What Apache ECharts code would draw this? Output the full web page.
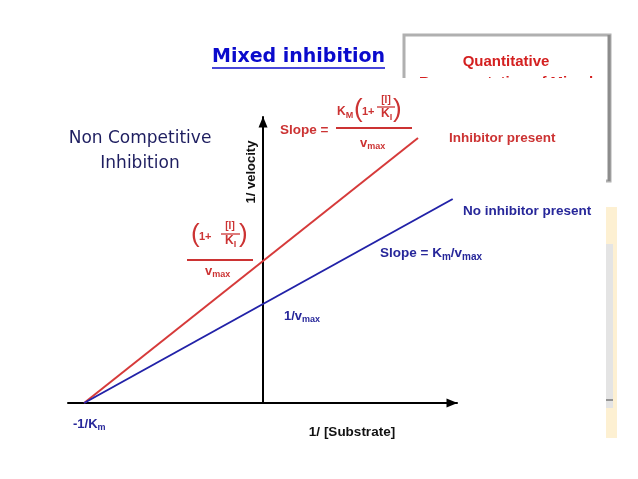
<!DOCTYPE html>
<html>
<head>
<meta charset="utf-8">
<script src="https://cdn.jsdelivr.net/npm/echarts@6/dist/echarts.min.js"></script>
<style>html,body{margin:0;padding:0;background:#fff}#c{width:638px;height:479px}</style>
</head>
<body>
<div id="c"></div>
<script>
// Lineweaver-Burk (units: Km = 1, vmax = 1)
var inhibitorX = [-1, 0.866];
var inhibitorY = [0, 2.65];
var noInhibitorX = [-1, 1.06];
var noInhibitorY = [0, 2.04];
var xRange = [-1.09, 1.084];
var yRange = [0, 2.86];

var RED = '#cc3333', RLINE = '#d63a3a', BLUE = '#27279a', BLINE = '#2222a8';
var F = '"Liberation Sans", Arial, sans-serif';

function pts(xs, ys) { return xs.map(function (x, i) { return [x, ys[i]]; }); }
function t(x, y, text, font, fill, align, z) {
  return { type: 'text', z: z || 50, style: { x: x, y: y, text: text, font: font, fill: fill, align: align || 'left', verticalAlign: 'middle' } };
}
function ln(x1, y1, x2, y2, c, w, z) {
  return { type: 'line', z: z || 50, shape: { x1: x1, y1: y1, x2: x2, y2: y2 }, style: { stroke: c, lineWidth: w || 1.5 } };
}
function rt(x, y, text, size, fill, align) {
  var ss = Math.round(size * 0.72);
  var r = { s: { font: 'bold ' + ss + 'px ' + F, fill: fill, padding: [Math.round(size * 0.6), 0, 0, 0] } };
  return { type: 'text', z: 50, style: { x: x, y: y, text: text, font: 'bold ' + size + 'px ' + F, fill: fill, align: align || 'left', verticalAlign: 'middle', rich: r } };
}

var g = [
  // top-right box (slide element)
  { type: 'rect', z: 1, shape: { x: 404, y: 35, width: 206, height: 146 }, style: { fill: '#fff', stroke: '#b0b0b0', lineWidth: 3 } },
  ln(609, 35, 609, 181, '#8c8c8c', 3, 2),
  t(506, 62, 'Quantitative', 'bold 15px ' + F, '#d42020', 'center', 2),
  t(506, 83, 'Representation of Mixed', 'bold 15px ' + F, '#d42020', 'center', 2),
  { type: 'rect', z: 5, shape: { x: 150, y: 78, width: 456, height: 360 }, style: { fill: '#fff' } },
  // right stripes
  { type: 'rect', z: 2, shape: { x: 606, y: 207, width: 11, height: 231 }, style: { fill: '#fdf0d2' } },
  { type: 'rect', z: 3, shape: { x: 606, y: 244, width: 7, height: 164 }, style: { fill: '#e4e4e4' } },
  ln(606, 400, 613, 400, '#444', 1, 4),
  // title
  t(212, 57, 'Mixed inhibition', 'bold 19px "DejaVu Sans", Verdana, sans-serif', '#0a0acc', 'left'),
  ln(212, 68, 385, 68, '#0a0acc', 1.5),
  t(140, 139, 'Non Competitive', '17px "DejaVu Sans", Verdana, sans-serif', '#1e1e60', 'center'),
  t(140, 164, 'Inhibition', '17px "DejaVu Sans", Verdana, sans-serif', '#1e1e60', 'center'),
  // axis titles
  { type: 'text', z: 50, x: 251, y: 172, rotation: Math.PI / 2, style: { x: 0, y: 0, text: '1/ velocity', font: 'bold 13px ' + F, fill: '#111', align: 'center', verticalAlign: 'middle' } },
  t(352, 432, '1/ [Substrate]', 'bold 13.5px ' + F, '#111', 'center'),
  rt(73, 424, '-1/K{s|m}', 13, BLUE, 'left'),
  // blue labels
  t(463, 211, 'No inhibitor present', 'bold 13.5px ' + F, BLUE, 'left'),
  rt(380, 253, 'Slope = K{s|m}/v{s|max}', 13.5, BLUE, 'left'),
  rt(284, 316, '1/v{s|max}', 13, BLUE, 'left'),
  // red labels
  t(449, 138, 'Inhibitor present', 'bold 13.5px ' + F, RED, 'left'),
  t(280, 130, 'Slope =', 'bold 13.5px ' + F, RED, 'left'),
  rt(337, 112, 'K{s|M}', 12, RED, 'left'),
  t(354, 110, '(', '26px ' + F, RED, 'left'),
  t(362, 112, '1+', 'bold 11px ' + F, RED, 'left'),
  t(386, 100, '[I]', 'bold 10px ' + F, RED, 'center'),
  ln(377, 107, 395, 107, RED, 1.3),
  rt(381, 114, 'K{s|I}', 12, RED, 'left'),
  t(393, 110, ')', '26px ' + F, RED, 'left'),
  ln(336, 128, 412, 128, RED, 1.8),
  rt(360, 143, 'v{s|max}', 13, RED, 'left'),
  t(191, 235, '(', '26px ' + F, RED, 'left'),
  t(199, 237, '1+', 'bold 11px ' + F, RED, 'left'),
  t(230, 226, '[I]', 'bold 10px ' + F, RED, 'center'),
  ln(221, 234, 240, 234, RED, 1.3),
  rt(225, 241, 'K{s|I}', 12, RED, 'left'),
  t(239, 235, ')', '26px ' + F, RED, 'left'),
  ln(187, 260, 253, 260, RED, 1.8),
  rt(205, 271, 'v{s|max}', 13, RED, 'left')
];

var chart = echarts.init(document.getElementById('c'), null, { renderer: 'canvas' });
chart.setOption({
  backgroundColor: '#fff',
  animation: false,
  grid: { left: 68, right: 638 - 457, top: 117, bottom: 479 - 403, containLabel: false, z: 10 },
  xAxis: {
    type: 'value', min: xRange[0], max: xRange[1], z: 10,
    axisLine: { onZero: true, symbol: ['none', 'triangle'], symbolSize: [9, 11], symbolOffset: [0, -5], lineStyle: { color: '#000', width: 2 } },
    axisTick: { show: false }, axisLabel: { show: false }, splitLine: { show: false }
  },
  yAxis: {
    type: 'value', min: yRange[0], max: yRange[1], z: 10,
    axisLine: { onZero: true, symbol: ['none', 'triangle'], symbolSize: [9, 11], symbolOffset: [0, -5], lineStyle: { color: '#000', width: 2 } },
    axisTick: { show: false }, axisLabel: { show: false }, splitLine: { show: false }
  },
  series: [
    { type: 'line', z: 20, data: pts(inhibitorX, inhibitorY), showSymbol: false, lineStyle: { color: RLINE, width: 2 }, clip: false },
    { type: 'line', z: 20, data: pts(noInhibitorX, noInhibitorY), showSymbol: false, lineStyle: { color: BLINE, width: 2 }, clip: false }
  ],
  graphic: { elements: g }
});
</script>
</body>
</html>
